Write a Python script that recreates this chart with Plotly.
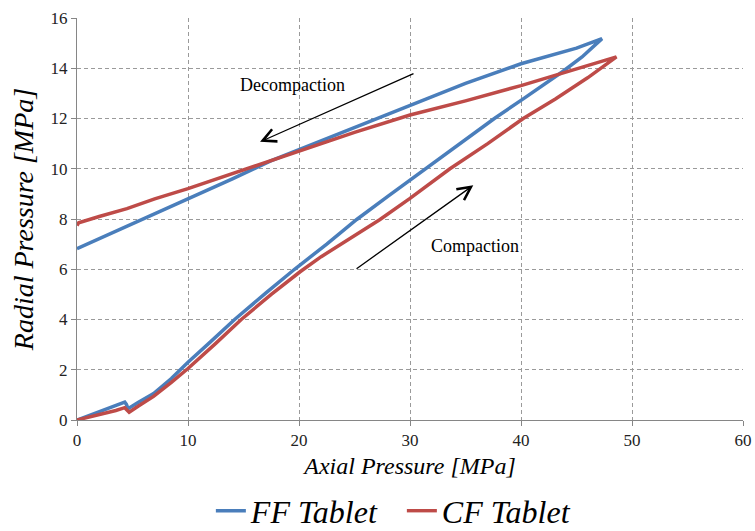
import plotly.graph_objects as go

# FF Tablet (blue): compaction then decompaction loop
ff_x = [0, 1.2, 2.4, 3.5, 4.3, 4.45, 4.6, 5.5, 6.9, 8.5, 10, 12, 14.2, 17, 19.6, 22.5, 25.2, 28, 30, 31.5,
        34.5, 37.6, 40.2, 43.7, 45.5, 46.8, 47.3,
        45, 42.5, 40, 35, 30, 25, 20, 17.4, 14, 10, 5.7, 3, 0]
ff_y = [0, 0.2, 0.41, 0.58, 0.71, 0.62, 0.45, 0.7, 1.05, 1.65, 2.3, 3.1, 4.0, 5.05, 6.0, 7.0, 7.98, 8.9, 9.55, 10.0,
        11.0, 12.0, 12.78, 13.85, 14.45, 14.95, 15.18,
        14.8, 14.5, 14.18, 13.4, 12.51, 11.65, 10.75, 10.3, 9.6, 8.81, 7.98, 7.42, 6.82]

# CF Tablet (red): compaction then decompaction loop
cf_x = [0, 1.2, 2.4, 3.5, 4.3, 4.5, 4.7, 5.5, 6.9, 8.5, 10, 12.5, 14.8, 17.5, 20.1, 22, 24.5, 27.3, 30, 33.6,
        37, 40.2, 43.1, 46, 48.6,
        46, 43, 40, 35, 30, 25, 20, 17.4, 14, 10, 7, 4.5, 2, 0.4, 0.15, 0]
cf_y = [0, 0.12, 0.25, 0.38, 0.49, 0.4, 0.31, 0.55, 0.94, 1.5, 2.05, 3.05, 4.0, 5.0, 5.9, 6.5, 7.2, 7.98, 8.82, 10.0,
        11.0, 12.0, 12.78, 13.62, 14.45,
        14.1, 13.7, 13.31, 12.7, 12.14, 11.45, 10.71, 10.3, 9.8, 9.21, 8.8, 8.41, 8.1, 7.91, 7.85, 7.74]

series_names = ["FF Tablet", "CF Tablet"]
series_colors = ["#4A7EBB", "#BE4B48"]

x_ticks = [0, 10, 20, 30, 40, 50, 60]
y_ticks = [0, 2, 4, 6, 8, 10, 12, 14, 16]

SERIF = "Liberation Serif"

fig = go.Figure()
for xs, ys, name, col in [(ff_x, ff_y, series_names[0], series_colors[0]),
                          (cf_x, cf_y, series_names[1], series_colors[1])]:
    fig.add_trace(go.Scatter(x=xs, y=ys, mode="lines", name="<i>" + name + "</i>",
                             line=dict(color=col, width=3.5)))

grid = dict(showgrid=True, gridcolor="#9A9A9A", gridwidth=1, griddash="4px,3px",
            showline=True, linecolor="#868686", linewidth=1,
            ticks="outside", ticklen=5, tickcolor="#868686",
            tickfont=dict(family=SERIF, size=17, color="#222"), zeroline=False)

fig.update_xaxes(range=[0, 60], tickvals=x_ticks, **grid,
                 title=dict(text="<i>Axial Pressure [MPa]</i>", standoff=7,
                            font=dict(family=SERIF, size=24, color="#000")))
fig.update_yaxes(range=[0, 16], tickvals=y_ticks, **grid,
                 title=dict(text="<i>Radial Pressure [MPa]</i>", standoff=8,
                            font=dict(family=SERIF, size=28, color="#000")))

arrow = dict(xref="x", yref="y", axref="x", ayref="y", text="", showarrow=True,
             arrowhead=5, arrowsize=2, arrowwidth=1.3, arrowcolor="#000")
fig.add_annotation(x=16.49, y=11.07, ax=30.45, ay=13.81, **arrow)
fig.add_annotation(x=35.70, y=9.34, ax=25.05, ay=5.98, **arrow)
fig.add_annotation(x=19.37, y=13.34, text="Decompaction", showarrow=False,
                   font=dict(family=SERIF, size=18, color="#000"))
fig.add_annotation(x=35.9, y=6.94, text="Compaction", showarrow=False,
                   font=dict(family=SERIF, size=18, color="#000"))

fig.update_layout(
    width=755, height=531,
    margin=dict(l=77, r=12, t=18, b=111, autoexpand=False),
    plot_bgcolor="white", paper_bgcolor="white",
    font=dict(family=SERIF),
    showlegend=True,
    legend=dict(orientation="h", x=0.201, xanchor="left", y=-0.226, yanchor="middle",
                font=dict(family=SERIF, size=32, color="#000"), itemwidth=30,
                entrywidth=146, tracegroupgap=0),
)

fig.write_html("out.html")
